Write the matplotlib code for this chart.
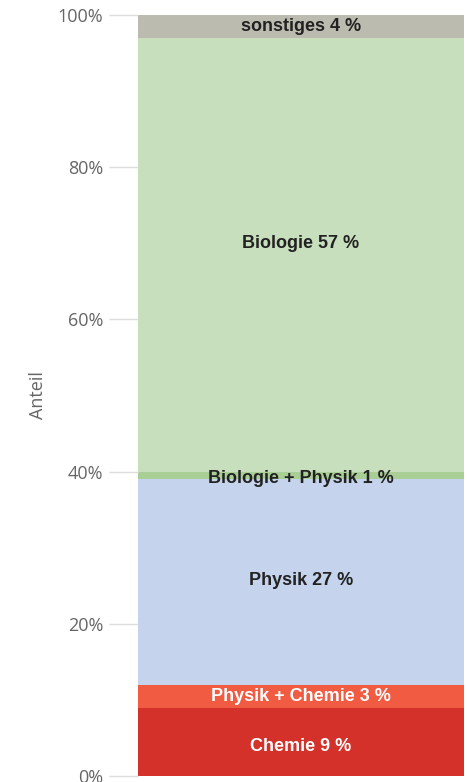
import matplotlib.pyplot as plt

# shares of publications by subject (percent), stacked bottom to top
categories = ['Chemie', 'Physik + Chemie', 'Physik', 'Biologie + Physik', 'Biologie', 'sonstiges']
shares = [9, 3, 27, 1, 57, 4]
colors = ['#d3312a', '#f05b41', '#c5d3ec', '#a9cf97', '#c8dfbe', '#bcbbb0']
text_colors = ['white', 'white', '#222222', '#222222', '#222222', '#222222']
# small nudges of the labels (in %), the original centres some labels a bit off
label_nudge = [-0.6, 0, 0.2, -0.4, 1.5, 0]
yticks = [0, 20, 40, 60, 80, 100]

fig = plt.figure(figsize=(4.67, 7.82), dpi=100)
ax = fig.add_axes([138 / 467, 6 / 782, 326 / 467, 761 / 782])

bottom = 0
for cat, val, col, tc, nd in zip(categories, shares, colors, text_colors, label_nudge):
    ax.bar(0, val, bottom=bottom, width=1.0, color=col, linewidth=0)
    top = min(bottom + val, 100)
    ax.text(0, (bottom + top) / 2 + nd, f'{cat} {val} %', ha='center', va='center',
            fontsize=13, fontweight='bold', color=tc, family='Liberation Sans')
    bottom += val

ax.set_xlim(-0.5, 0.5)
ax.set_ylim(0, 100)
ax.set_xticks([])
ax.set_yticks(yticks)
ax.set_yticklabels([f'{t}%' for t in yticks], family='Open Sans', fontsize=13, color='#666666')
ax.tick_params(axis='y', length=21, width=1, color='#dddddd', pad=4)
for s in ax.spines.values():
    s.set_visible(False)
ax.set_ylabel('Anteil', family='Open Sans', fontsize=13, color='#666666', labelpad=8)

plt.savefig('out.png', dpi=100)
